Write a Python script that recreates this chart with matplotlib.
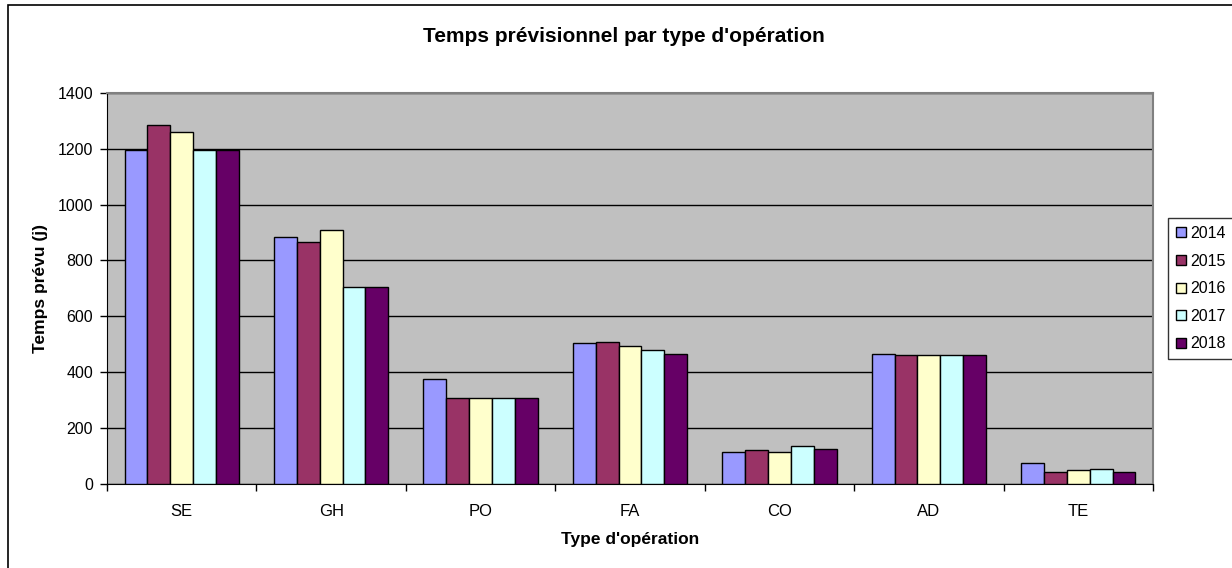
import matplotlib
matplotlib.use("Agg")
import matplotlib.pyplot as plt
import numpy as np
from matplotlib.patches import Rectangle

plt.rcParams['font.family'] = ['Liberation Sans', 'DejaVu Sans']

categories = ["SE", "GH", "PO", "FA", "CO", "AD", "TE"]
years = ["2014", "2015", "2016", "2017", "2018"]
v2014 = [1195, 882, 374, 502, 114, 465, 72]
v2015 = [1286, 867, 307, 507, 119, 459, 42]
v2016 = [1261, 910, 307, 493, 114, 459, 47]
v2017 = [1195, 705, 307, 478, 133, 459, 53]
v2018 = [1195, 705, 307, 464, 124, 459, 42]
series = [v2014, v2015, v2016, v2017, v2018]
colors = ["#9999FF", "#993366", "#FFFFCC", "#CCFFFF", "#660066"]

W, H = 1232, 568
fig = plt.figure(figsize=(W/100, H/100), dpi=100)
ax = fig.add_axes([107/W, 1-483.5/H, (1153-107)/W, (483.5-93)/H])
ax.set_facecolor("#C0C0C0")

x = np.arange(len(categories))
bw = 0.153
for i, (vals, c) in enumerate(zip(series, colors)):
    ax.bar(x + (i - 2) * bw, vals, width=bw, color=c, edgecolor="black",
           linewidth=1.0, label=years[i], zorder=3)

ax.set_xlim(-0.5, len(categories) - 0.5)
ax.set_ylim(0, 1400)
ax.set_yticks(range(0, 1401, 200))
ax.yaxis.grid(True, color="black", linewidth=1.0, zorder=0)
ax.set_axisbelow(True)
ax.set_xticks(x)
ax.set_xticklabels(categories)
ax.set_xticks(np.arange(-0.5, len(categories), 1), minor=True)
ax.tick_params(axis='x', which='major', length=0, pad=15, labelsize=12)
ax.tick_params(axis='x', which='minor', length=5, width=1, direction='out')
ax.tick_params(axis='y', length=5, width=1, labelsize=11.5, pad=5)
for s in ["top", "right"]:
    ax.spines[s].set_color("#808080")
    ax.spines[s].set_linewidth(1.5)
ax.spines["left"].set_color("black")
ax.spines["bottom"].set_color("black")

ax.set_xlabel("Type d'opération", fontsize=12.5, fontweight="bold", labelpad=9)
ax.set_ylabel("Temps prévu (j)", fontsize=12.5, fontweight="bold", labelpad=7)
fig.text(624 / W, 1 - 37 / H, "Temps prévisionnel par type d'opération",
         ha="center", va="center", fontsize=15, fontweight="bold")

leg = ax.legend(loc="upper left", bbox_to_anchor=((1168 - 107) / (1153 - 107), (483.5 - 218) / (483.5 - 93)),
                fontsize=11.5, frameon=True, fancybox=False, edgecolor="black",
                handlelength=0.6, handleheight=0.6, handletextpad=0.3,
                labelspacing=0.79, borderpad=0.5, borderaxespad=0)
leg.get_frame().set_linewidth(1.0)

fig.patches.append(Rectangle((7.5 / W, -0.1), 1.2, 1 - 4.5 / H + 0.1, transform=fig.transFigure,
                             fill=False, edgecolor="black", linewidth=1.2))

fig.savefig("out.png", dpi=100)
